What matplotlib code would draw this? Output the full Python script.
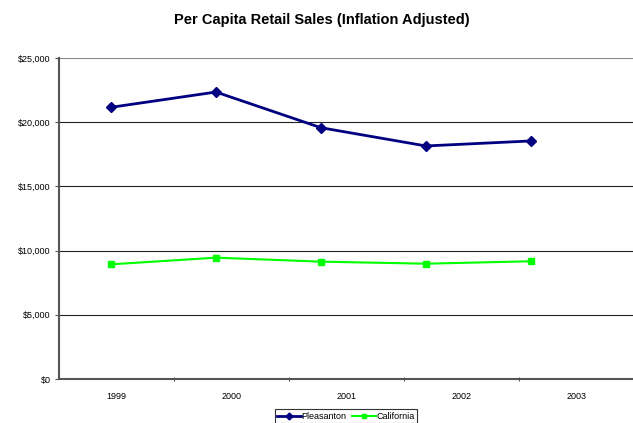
import matplotlib
matplotlib.use("Agg")
import matplotlib.pyplot as plt
from matplotlib.ticker import FuncFormatter, FixedLocator

plt.rcParams['font.family'] = ['Liberation Sans', 'DejaVu Sans']

years = ['1999', '2000', '2001', '2002', '2003']
pleasanton = [21160, 22350, 19570, 18150, 18540]
california = [8930, 9450, 9140, 8980, 9170]

fig = plt.figure(figsize=(6.33, 4.23), dpi=100)
ax = fig.add_axes([59/633, 1 - 379/423, 575/633, 321/423])

# category axis (labels + ticks between categories)
ax.set_xlim(-0.5, 4.5)
ax.set_ylim(0, 25000)
ax.set_xticks([i + 0.5 for i in range(4)])
ax.set_xticklabels([])
ax.xaxis.set_minor_locator(FixedLocator(range(len(years))))
ax.set_xticklabels(years, minor=True)
ax.tick_params(axis='x', which='minor', length=0, labelsize=6.5, pad=9)
ax.tick_params(axis='x', which='major', length=3, direction='inout', color='#555555')
ax.set_yticks(range(0, 25001, 5000))
ax.yaxis.set_major_formatter(FuncFormatter(lambda v, p: '${:,.0f}'.format(v)))
ax.tick_params(axis='y', length=3, direction='out', labelsize=6.5, color='#555555', pad=3)
for v in range(5000, 25001, 5000):
    ax.axhline(v, color='#222222' if v != 25000 else '#888888', lw=0.8, zorder=1)
ax.spines['right'].set_visible(False)
ax.spines['top'].set_visible(False)
ax.spines['left'].set_color('#555555')
ax.spines['bottom'].set_color('#555555')
ax.spines['left'].set_linewidth(1.5)
ax.spines['bottom'].set_linewidth(1.5)

# data axis (points drawn slightly narrower than the category axis, as in the original)
ax2 = ax.twiny()
ax2.set_xlim(-0.495, 4.981)
ax2.set_ylim(0, 25000)
ax2.axis('off')
x = list(range(len(years)))
l1, = ax2.plot(x, pleasanton, color='#000080', lw=2.0, marker='D', ms=5, label='Pleasanton', zorder=3)
l2, = ax2.plot(x, california, color='#00FF00', lw=1.5, marker='s', ms=5, label='California', zorder=3)

fig.text(322/633, 1 - 20/423, 'Per Capita Retail Sales (Inflation Adjusted)',
         ha='center', va='center', fontsize=10.5, fontweight='bold')

leg = fig.legend([l1, l2], ['Pleasanton', 'California'], loc='upper center',
                 bbox_to_anchor=(346/633, 1 - 409/423), ncol=2, fontsize=6.5,
                 frameon=True, fancybox=False, edgecolor='black', handlelength=2.6,
                 handletextpad=0.1, columnspacing=0.6, borderpad=0.3, borderaxespad=0,
                 markerscale=0.7)
leg.get_frame().set_linewidth(0.8)

fig.savefig('out.png', dpi=100)
